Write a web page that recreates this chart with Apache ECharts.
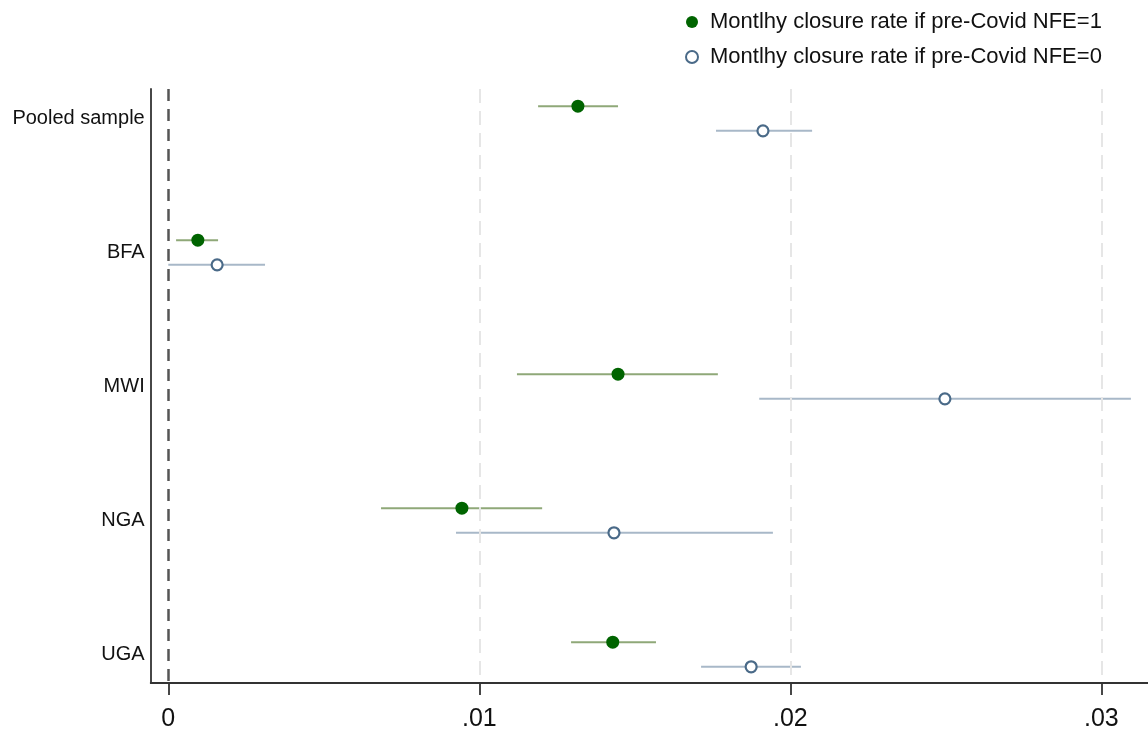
<!DOCTYPE html>
<html>
<head>
<meta charset="utf-8">
<script src="https://cdn.jsdelivr.net/npm/echarts@6/dist/echarts.min.js"></script>
<style>html,body{margin:0;padding:0;background:#fff}#c{width:1148px;height:733px}</style>
</head>
<body>
<div id="c"></div>
<script>
const categories = ['Pooled sample', 'BFA', 'MWI', 'NGA', 'UGA'];
const seriesNames = ['Montlhy closure rate if pre-Covid NFE=1', 'Montlhy closure rate if pre-Covid NFE=0'];
// NFE=1
const est1 = [0.01317, 0.00095, 0.01446, 0.00944, 0.01429];
const lo1  = [0.01189, 0.00025, 0.01121, 0.00684, 0.01295];
const hi1  = [0.01446, 0.00160, 0.01767, 0.01202, 0.01568];
// NFE=0
const est0 = [0.01912, 0.00157, 0.02497, 0.01433, 0.01874];
const lo0  = [0.01761, 0.00000, 0.01900, 0.00925, 0.01713];
const hi0  = [0.02070, 0.00311, 0.03095, 0.01944, 0.02034];
const xTicks = [0, 0.01, 0.02, 0.03];
const xTickLabels = ['0', '.01', '.02', '.03'];

const OFF = 0.092;
const font = 'Liberation Sans, Arial, sans-serif';

function pts(est, off) { return est.map((v, i) => [v, i + 1 + off]); }
function bars(lo, hi, off) { return lo.map((v, i) => [v, hi[i], i + 1 + off]); }

const errRender = (color) => function (params, api) {
  const a = api.coord([api.value(0), api.value(2)]);
  const b = api.coord([api.value(1), api.value(2)]);
  return { type: 'line', shape: { x1: a[0], y1: a[1], x2: b[0], y2: b[1] },
           style: { stroke: color, lineWidth: 2 } };
};

const chart = echarts.init(document.getElementById('c'), null, { renderer: 'canvas' });
chart.setOption({
  animation: false,
  backgroundColor: '#fff',
  grid: { left: 150.7, right: 0, top: 89, bottom: 50, containLabel: false },
  legend: {
    orient: 'vertical', left: 680, top: 6, itemWidth: 12, itemHeight: 12, itemGap: 13,
    textStyle: { fontFamily: font, fontSize: 22, lineHeight: 22, color: '#111', padding: [0, 0, 0, 7] },
    data: seriesNames
  },
  xAxis: {
    type: 'value', min: -0.000566, max: 0.0315,
    axisLine: { show: true, onZero: false, lineStyle: { color: '#333', width: 1.8 } },
    axisTick: { show: true, customValues: xTicks, length: 12, lineStyle: { color: '#333', width: 1.8 } },
    axisLabel: { customValues: xTicks, formatter: v => xTickLabels[xTicks.findIndex(t => Math.abs(t - v) < 1e-9)] ?? '',
                 fontFamily: font, fontSize: 25, color: '#111', margin: 24 },
    splitLine: { show: false }
  },
  yAxis: {
    type: 'value', inverse: true, min: 0.78, max: 5.213,
    axisLine: { show: true, onZero: false, lineStyle: { color: '#333', width: 1.8 } },
    axisTick: { show: false },
    axisLabel: { customValues: [1, 2, 3, 4, 5], formatter: v => categories[Math.round(v) - 1],
                 fontFamily: font, fontSize: 20, color: '#111', margin: 6, padding: [4, 0, 0, 0] },
    splitLine: { show: false }
  },
  series: [
    { type: 'custom', name: 'ci1', renderItem: errRender('#8fa878'), data: bars(lo1, hi1, -OFF), z: 2,
      encode: { x: [0, 1], y: 2 }, silent: true,
      markLine: { silent: true, symbol: 'none', label: { show: false },
        lineStyle: { color: '#e6e6e6', width: 2, type: [14, 8] },
        data: [{ xAxis: 0.01 }, { xAxis: 0.02 }, { xAxis: 0.03 }] } },
    { type: 'custom', name: 'ci0', renderItem: errRender('#a8b8c8'), data: bars(lo0, hi0, OFF), z: 2,
      encode: { x: [0, 1], y: 2 }, silent: true,
      markLine: { silent: true, symbol: 'none', label: { show: false }, z: 3,
        lineStyle: { color: '#555', width: 2.5, type: [12, 8] },
        data: [{ xAxis: 0 }] } },
    { type: 'scatter', name: seriesNames[0], data: pts(est1, -OFF), symbol: 'circle', symbolSize: 13, z: 5,
      itemStyle: { color: '#006400', opacity: 1 } },
    { type: 'scatter', name: seriesNames[1], data: pts(est0, OFF), symbol: 'circle', symbolSize: 11, z: 5,
      itemStyle: { color: '#fff', borderColor: '#4a6a88', borderWidth: 2.2, opacity: 1 } }
  ]
});
</script>
</body>
</html>
